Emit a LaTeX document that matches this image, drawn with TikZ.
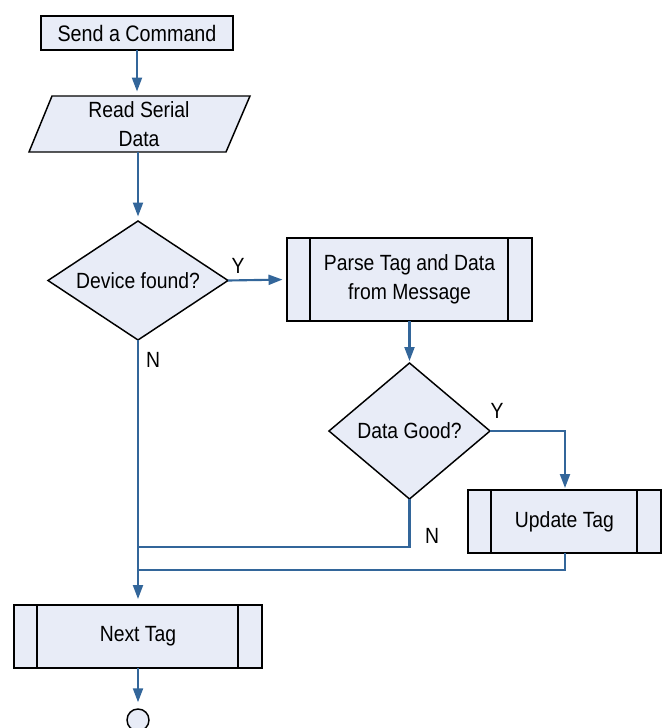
\documentclass[tikz,border=0pt]{standalone}
\usepackage{fontspec}
\setmainfont{Liberation Sans}[FakeStretch=0.88]
\usetikzlibrary{shapes.geometric,arrows.meta}
\newcommand\pxu{0.75pt}
\definecolor{boxfill}{HTML}{E8ECF7}
\definecolor{flow}{HTML}{33669A}
\tikzset{
  txt/.style={font=\fontsize{16.5}{21.5}\selectfont, align=center, text=black},
  procbox/.style={txt, draw=black, fill=boxfill, line width=1.6pt, rectangle, inner sep=0pt, outer sep=0pt},
  decision/.style={txt, draw=black, fill=boxfill, line width=1.1pt, diamond, inner sep=0pt, outer sep=0pt},
  subproc/.style={procbox, path picture={
      \draw[line width=1.5pt] ([xshift=23*\pxu]path picture bounding box.north west) -- ([xshift=23*\pxu]path picture bounding box.south west);
      \draw[line width=1.5pt] ([xshift=-24*\pxu]path picture bounding box.north east) -- ([xshift=-24*\pxu]path picture bounding box.south east);}},
  link/.style={draw=flow, line width=1.6pt},
  arrowlink/.style={link, -{Triangle[length=10.5pt, width=7.5pt]}, shorten >=4.5*\pxu},
  branch/.style={txt, inner sep=0pt}
}
\begin{document}
\begin{tikzpicture}[x=0.75pt, y=-0.75pt]
\useasboundingbox (0,0) rectangle (667,728);

% process step
\node[procbox, minimum width=192*\pxu, minimum height=34*\pxu, font=\fontsize{16.8}{21}\selectfont] (send) at (137,33) {Send a Command};

% input/output step (parallelogram)
\coordinate (read-nw) at (52,96);
\coordinate (read-ne) at (250,96);
\coordinate (read-se) at (226,152);
\coordinate (read-sw) at (29,152);
\coordinate (read-n) at (137,96);
\coordinate (read-s) at (138,152);
\filldraw[draw=black, fill=boxfill, line width=1.1pt] (read-nw) -- (read-ne) -- (read-se) -- (read-sw) -- cycle;
\node[txt, inner sep=0pt] (read) at (139,124) {Read Serial\\Data};

\node[decision, minimum width=180*\pxu, minimum height=119*\pxu] (dev) at (138,280.5)
  {\makebox[0pt]{\smash{\raisebox{-0.36em}{Device found?}}}};

\node[subproc, minimum width=245*\pxu, minimum height=83*\pxu] (parse) at (409.5,279.5)
  {Parse Tag and Data\\from Message};

\node[decision, minimum width=161*\pxu, minimum height=136*\pxu] (good) at (409.5,431)
  {\makebox[0pt]{\smash{\raisebox{-0.36em}{Data Good?}}}};

\node[subproc, minimum width=193*\pxu, minimum height=63*\pxu] (upd) at (564.5,521.5) {Update Tag};

\node[subproc, minimum width=248*\pxu, minimum height=63*\pxu] (next) at (138,636.5) {Next Tag};

\node[circle, draw=black, fill=boxfill, line width=1.1pt, minimum size=22*\pxu, inner sep=0pt] (stop) at (138,720) {};

% junction points
\coordinate (goodturn) at (565,431);
\coordinate (nocorner) at (409.5,547);
\coordinate (nojoin) at (138,547);
\coordinate (updcorner) at (565,570);
\coordinate (updjoin) at (138,570);

% connectors
\draw[arrowlink] (send.south) -- (read-n);
\draw[arrowlink] (read-s) -- (dev.north);
\draw[arrowlink] (dev.east) -- (parse.west);
\draw[arrowlink, shorten >=2*\pxu] (parse.south) -- (good.north);
\draw[arrowlink, shorten >=2*\pxu] (good.east) -- (goodturn) -- (upd.north -| goodturn);
\draw[link] (good.south) -- (nocorner) -- (nojoin);
\draw[link] (upd.south -| updcorner) -- (updcorner) -- (updjoin);
\draw[arrowlink, shorten >=6*\pxu] (dev.south) -- (next.north);
\draw[arrowlink, shorten >=6*\pxu] (next.south) -- (stop.north);

% branch labels
\node[branch] (y1) at (238,266) {Y};
\node[branch] (n1) at (153,360) {N};
\node[branch] (y2) at (497,411) {Y};
\node[branch] (n2) at (432,536) {N};
\end{tikzpicture}
\end{document}
